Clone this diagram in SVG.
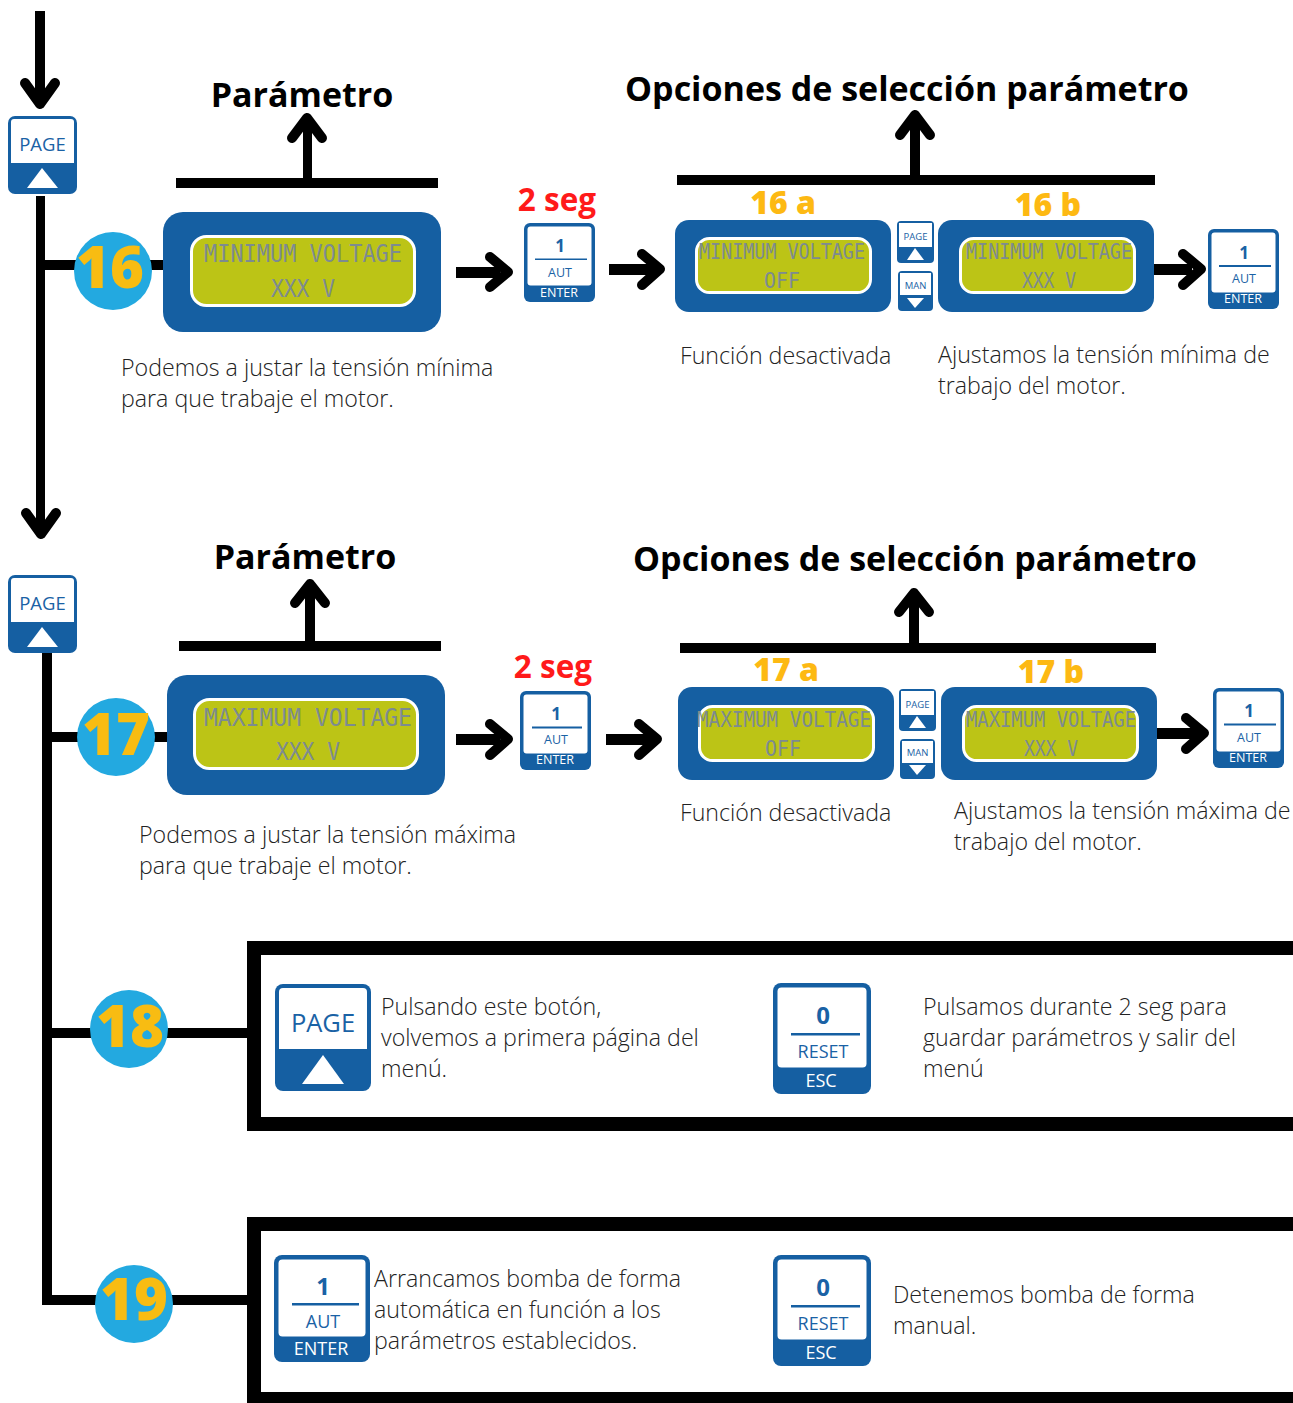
<svg xmlns="http://www.w3.org/2000/svg" width="1293" height="1403" viewBox="0 0 1293 1403">
<style>
text{font-family:"Open Sans","Noto Sans","Liberation Sans",sans-serif}
.h{font-size:34px;font-weight:700;fill:#000;text-anchor:middle}
.d{font-size:23.200px;font-weight:300;fill:#222}
.sg{font-size:31.500px;font-weight:700;fill:#ff1a1a;text-anchor:middle}
.op{font-size:32px;font-weight:800;fill:#fdb913;text-anchor:middle}
.num{font-size:58px;font-weight:800;fill:#f8bc12;text-anchor:middle}
.lcd{font-family:"DejaVu Sans Mono","Liberation Mono",monospace;fill:#7d8b90;text-anchor:middle}
.b{fill:#155fa2}
.w{fill:#fff}
.bt{fill:#1a62a5;text-anchor:middle}
.wt{fill:#fff;text-anchor:middle}
.ln{fill:none;stroke:#000;stroke-width:10;stroke-linejoin:round;stroke-linecap:round}
.c{fill:#23a9e0}
.scr{fill:#bcc416;stroke:#fff;stroke-width:3}
</style>
<g id="connectors">
<rect x="35" y="11" width="10" height="90"/>
<polyline class="ln" points="25,83 40,104 55,83"/>
<rect x="36" y="196" width="9" height="330"/>
<polyline class="ln" points="26,513 41,534 56,513"/>
<rect x="36" y="260" width="128" height="10"/>
<rect x="303" y="120" width="9" height="60"/>
<polyline class="ln" points="292,138 307,118 322,138"/>
<rect x="176" y="178" width="262" height="10"/>
<rect x="910" y="118" width="10" height="60"/>
<polyline class="ln" points="900,135 915,115 930,135"/>
<rect x="677" y="175" width="478" height="10"/>
<rect x="456" y="267" width="44" height="11"/>
<polyline class="ln" points="490,257 508,272 490,287"/>
<rect x="609" y="264" width="44" height="11"/>
<polyline class="ln" points="642,254 660,269 642,285"/>
<rect x="1154" y="264" width="38" height="11"/>
<polyline class="ln" points="1183,254 1201,269 1183,285"/>
<rect x="42" y="648" width="10" height="656"/>
<rect x="42" y="732" width="125" height="10"/>
<rect x="305" y="585" width="10" height="58"/>
<polyline class="ln" points="295,603 310,584 325,603"/>
<rect x="179" y="641" width="262" height="10"/>
<rect x="909" y="595" width="10" height="50"/>
<polyline class="ln" points="899,612 914,593 929,612"/>
<rect x="680" y="643" width="476" height="10"/>
<rect x="456" y="734" width="44" height="11"/>
<polyline class="ln" points="490,724 508,739 490,755"/>
<rect x="606" y="734" width="44" height="11"/>
<polyline class="ln" points="639,724 657,739 639,755"/>
<rect x="1157" y="728" width="40" height="11"/>
<polyline class="ln" points="1186,718 1204,733 1186,749"/>
<rect x="42" y="1028" width="206" height="10"/>
<rect x="42" y="1295" width="206" height="10"/>
</g>
<g id="panel18">
<path d="M1293,948H254V1124H1293" fill="#fff" stroke="#000" stroke-width="14"/>
</g>
<g id="panel19">
<path d="M1293,1224H254V1399H1293" fill="#fff" stroke="#000" stroke-width="14"/>
</g>
<g id="page1">
<rect class="b" x="8" y="116" width="69" height="78" rx="7"/>
<path class="w" d="M14,119H71a3,3 0 0 1 3,3V163H11V122a3,3 0 0 1 3-3z"/>
<path class="w" d="M27,188L42,168L58,188z"/>
<text class="bt" x="42.500" y="151" font-size="18.500">PAGE</text>
</g>
<g id="page2">
<rect class="b" x="8" y="575" width="69" height="78" rx="7"/>
<path class="w" d="M14,578H71a3,3 0 0 1 3,3V622H11V581a3,3 0 0 1 3-3z"/>
<path class="w" d="M27,647L42,627L58,647z"/>
<text class="bt" x="42.500" y="610" font-size="18.500">PAGE</text>
</g>
<g id="n16">
<circle class="c" cx="113" cy="271" r="39"/>
<text class="num" x="110" y="288">16</text>
</g>
<g id="n17">
<circle class="c" cx="116" cy="737" r="39"/>
<text class="num" x="116" y="755">17</text>
</g>
<g id="n18">
<circle class="c" cx="129" cy="1029" r="39"/>
<text class="num" x="130" y="1047">18</text>
</g>
<g id="n19">
<circle class="c" cx="134" cy="1304" r="39"/>
<text class="num" x="134" y="1320">19</text>
</g>
<g id="lcd16">
<rect class="b" x="163" y="212" width="278" height="120" rx="20"/>
<rect class="scr" x="191.500" y="236.500" width="223" height="69" rx="15"/>
<text class="lcd" x="303" y="262" font-size="24" textLength="198" lengthAdjust="spacingAndGlyphs">MINIMUM VOLTAGE</text>
<text class="lcd" x="303" y="297" font-size="24" textLength="64" lengthAdjust="spacingAndGlyphs">XXX V</text>
</g>
<g id="lcd17">
<rect class="b" x="167" y="675" width="278" height="120" rx="20"/>
<rect class="scr" x="194.500" y="699.500" width="223" height="69" rx="15"/>
<text class="lcd" x="308" y="726" font-size="24" textLength="208" lengthAdjust="spacingAndGlyphs">MAXIMUM VOLTAGE</text>
<text class="lcd" x="308" y="760" font-size="24" textLength="64" lengthAdjust="spacingAndGlyphs">XXX V</text>
</g>
<g id="lcd16a">
<rect class="b" x="675" y="220" width="216" height="92" rx="14"/>
<rect class="scr" x="696.500" y="238.500" width="174" height="54" rx="13"/>
<text class="lcd" x="782" y="259" font-size="22" textLength="166" lengthAdjust="spacingAndGlyphs">MINIMUM VOLTAGE</text>
<text class="lcd" x="782" y="288" font-size="22" textLength="36" lengthAdjust="spacingAndGlyphs">OFF</text>
</g>
<g id="lcd16b">
<rect class="b" x="938" y="220" width="216" height="92" rx="14"/>
<rect class="scr" x="960.500" y="238.500" width="174" height="54" rx="13"/>
<text class="lcd" x="1049" y="259" font-size="22" textLength="166" lengthAdjust="spacingAndGlyphs">MINIMUM VOLTAGE</text>
<text class="lcd" x="1049" y="288" font-size="22" textLength="54" lengthAdjust="spacingAndGlyphs">XXX V</text>
</g>
<g id="lcd17a">
<rect class="b" x="678" y="687" width="216" height="93" rx="14"/>
<rect class="scr" x="699.500" y="706.500" width="174" height="54" rx="13"/>
<text class="lcd" x="784" y="727" font-size="22" textLength="174" lengthAdjust="spacingAndGlyphs">MAXIMUM VOLTAGE</text>
<text class="lcd" x="783" y="756" font-size="22" textLength="36" lengthAdjust="spacingAndGlyphs">OFF</text>
</g>
<g id="lcd17b">
<rect class="b" x="941" y="687" width="216" height="93" rx="14"/>
<rect class="scr" x="963.500" y="706.500" width="174" height="54" rx="13"/>
<text class="lcd" x="1051" y="727" font-size="22" textLength="170" lengthAdjust="spacingAndGlyphs">MAXIMUM VOLTAGE</text>
<text class="lcd" x="1051" y="756" font-size="22" textLength="54" lengthAdjust="spacingAndGlyphs">XXX V</text>
</g>
<g id="small-page16">
<rect class="b" x="897" y="221" width="37" height="42" rx="4"/>
<path class="w" d="M899,223H932V247H899z"/>
<path class="w" d="M907,260L915,248L924,260z"/>
<text class="bt" x="915.500" y="240" font-size="9.500">PAGE</text>
</g>
<g id="small-man16">
<rect class="b" x="898" y="271" width="35" height="40" rx="4"/>
<path class="w" d="M900,273H931V295H900z"/>
<path class="w" d="M907,298L915,308L924,298z"/>
<text class="bt" x="915.500" y="289" font-size="9.500">MAN</text>
</g>
<g id="small-page17">
<rect class="b" x="899" y="689" width="37" height="42" rx="4"/>
<path class="w" d="M901,691H934V715H901z"/>
<path class="w" d="M909,728L917,716L926,728z"/>
<text class="bt" x="917.500" y="708" font-size="9.500">PAGE</text>
</g>
<g id="small-man17">
<rect class="b" x="900" y="739" width="35" height="40" rx="4"/>
<path class="w" d="M902,741H933V763H902z"/>
<path class="w" d="M909,765L917,775L926,765z"/>
<text class="bt" x="917.500" y="756" font-size="9.500">MAN</text>
</g>
<g id="enter16">
<rect class="b" x="524" y="223" width="71" height="79" rx="6"/>
<rect class="w" x="527.500" y="226.500" width="64" height="59" rx="3"/>
<text class="bt" x="560" y="252" font-size="17" font-weight="700">1</text>
<rect class="b" x="535" y="258.500" width="52" height="1.500"/>
<text class="bt" x="560" y="277" font-size="12.500">AUT</text>
<text class="wt" x="559" y="297" font-size="12.500">ENTER</text>
</g>
<g id="enter16b">
<rect class="b" x="1208" y="229" width="71" height="80" rx="6"/>
<rect class="w" x="1211.500" y="232.500" width="64" height="60" rx="3"/>
<text class="bt" x="1244" y="259" font-size="17" font-weight="700">1</text>
<rect class="b" x="1219" y="265" width="52" height="2"/>
<text class="bt" x="1244" y="283" font-size="12.500">AUT</text>
<text class="wt" x="1243" y="303" font-size="12.500">ENTER</text>
</g>
<g id="enter17">
<rect class="b" x="520" y="691" width="71" height="79" rx="6"/>
<rect class="w" x="523.500" y="694.500" width="64" height="59" rx="3"/>
<text class="bt" x="556" y="720" font-size="17" font-weight="700">1</text>
<rect class="b" x="532" y="726.500" width="50" height="2"/>
<text class="bt" x="556" y="744" font-size="12.500">AUT</text>
<text class="wt" x="555" y="764" font-size="12.500">ENTER</text>
</g>
<g id="enter17b">
<rect class="b" x="1213" y="688" width="71" height="80" rx="6"/>
<rect class="w" x="1216.500" y="691.500" width="64" height="60" rx="3"/>
<text class="bt" x="1249" y="717" font-size="17" font-weight="700">1</text>
<rect class="b" x="1224" y="723.500" width="52" height="2"/>
<text class="bt" x="1249" y="742" font-size="12.500">AUT</text>
<text class="wt" x="1248" y="762" font-size="12.500">ENTER</text>
</g>
<g id="page18">
<rect class="b" x="275" y="984" width="96" height="107" rx="8"/>
<path class="w" d="M283,988H363a4,4 0 0 1 4,4V1049H279V992a4,4 0 0 1 4-4z"/>
<path class="w" d="M302,1084L323,1055L344,1084z"/>
<text class="bt" x="323" y="1032" font-size="25.500">PAGE</text>
</g>
<g id="reset18">
<rect class="b" x="773" y="983" width="98" height="111" rx="8"/>
<rect class="w" x="777.500" y="987.500" width="89" height="80" rx="4"/>
<text class="bt" x="823" y="1024" font-size="24" font-weight="700">0</text>
<rect class="b" x="791" y="1033" width="69" height="2.500"/>
<text class="bt" x="823" y="1058" font-size="18">RESET</text>
<text class="wt" x="821" y="1087" font-size="18">ESC</text>
</g>
<g id="enter19">
<rect class="b" x="274" y="1255" width="96" height="107" rx="8"/>
<rect class="w" x="278.500" y="1259.500" width="87" height="77" rx="4"/>
<text class="bt" x="323" y="1295" font-size="24" font-weight="700">1</text>
<rect class="b" x="292" y="1303" width="67" height="2.500"/>
<text class="bt" x="323" y="1328" font-size="18">AUT</text>
<text class="wt" x="321" y="1355" font-size="18">ENTER</text>
</g>
<g id="reset19">
<rect class="b" x="773" y="1255" width="98" height="111" rx="8"/>
<rect class="w" x="777.500" y="1259.500" width="89" height="80" rx="4"/>
<text class="bt" x="823" y="1296" font-size="24" font-weight="700">0</text>
<rect class="b" x="791" y="1305" width="69" height="2.500"/>
<text class="bt" x="823" y="1330" font-size="18">RESET</text>
<text class="wt" x="821" y="1359" font-size="18">ESC</text>
</g>
<g id="labels">
<text class="h" x="302" y="107">Parámetro</text>
<text class="h" x="907" y="101">Opciones de selección parámetro</text>
<text class="h" x="305" y="569">Parámetro</text>
<text class="h" x="915" y="571">Opciones de selección parámetro</text>
<text class="sg" x="557" y="211">2 seg</text>
<text class="sg" x="553" y="678">2 seg</text>
<text class="op" x="783" y="214">16 a</text>
<text class="op" x="1048" y="216">16 b</text>
<text class="op" x="786" y="681">17 a</text>
<text class="op" x="1051" y="683">17 b</text>
<text class="d" x="121" y="376">Podemos a justar la tensión mínima</text>
<text class="d" x="121" y="407">para que trabaje el motor.</text>
<text class="d" x="680" y="364">Función desactivada</text>
<text class="d" x="938" y="363">Ajustamos la tensión mínima de</text>
<text class="d" x="938" y="394">trabajo del motor.</text>
<text class="d" x="139" y="843">Podemos a justar la tensión máxima</text>
<text class="d" x="139" y="874">para que trabaje el motor.</text>
<text class="d" x="680" y="821">Función desactivada</text>
<text class="d" x="954" y="819">Ajustamos la tensión máxima de</text>
<text class="d" x="954" y="850">trabajo del motor.</text>
<text class="d" x="381" y="1015">Pulsando este botón,</text>
<text class="d" x="381" y="1046">volvemos a primera página del</text>
<text class="d" x="381" y="1077">menú.</text>
<text class="d" x="923" y="1015">Pulsamos durante 2 seg para</text>
<text class="d" x="923" y="1046">guardar parámetros y salir del</text>
<text class="d" x="923" y="1077">menú</text>
<text class="d" x="374" y="1287">Arrancamos bomba de forma</text>
<text class="d" x="374" y="1318">automática en función a los</text>
<text class="d" x="374" y="1349">parámetros establecidos.</text>
<text class="d" x="893" y="1303">Detenemos bomba de forma</text>
<text class="d" x="893" y="1334">manual.</text>
</g>
</svg>
